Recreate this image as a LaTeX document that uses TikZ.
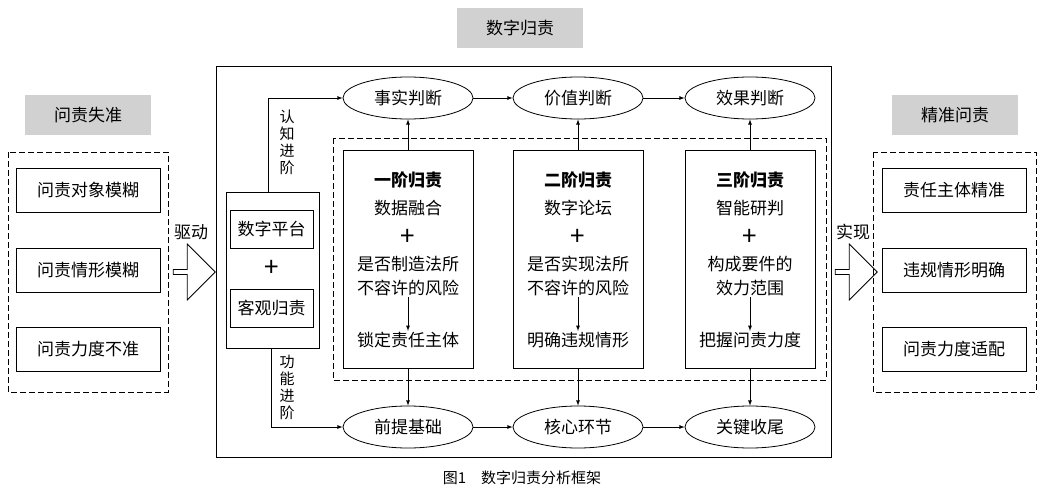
\documentclass[tikz,border=0pt]{standalone}
\usepackage{fontspec}
\setmainfont{Noto Sans CJK SC}
\usetikzlibrary{shapes.geometric, shapes.arrows, positioning}
\tikzset{
  hd/.style={fill=black!18, minimum width=126pt, minimum height=40pt, font=\fontsize{17}{20}\selectfont},
  sbox/.style={draw, thick, minimum width=144pt, minimum height=44pt, font=\fontsize{17}{20}\selectfont},
  pbox/.style={draw, thick, minimum width=83pt, minimum height=38pt, inner sep=1pt, font=\fontsize{17}{20}\selectfont},
  stage/.style={draw, thick, minimum width=130pt, minimum height=218pt},
  oval/.style={draw, thick, ellipse, minimum width=130pt, minimum height=42pt, font=\fontsize{17}{20}\selectfont},
  txt/.style={font=\fontsize{17}{20}\selectfont, inner sep=1pt},
  vtxt/.style={font=\fontsize{15}{17}\selectfont, align=center, inner sep=0pt},
  dframe/.style={draw, thick, dash pattern=on 6pt off 3pt},
  bigarrow/.style={draw, thick, single arrow, minimum height=42pt, minimum width=56pt, single arrow head extend=4pt, inner sep=0pt},
  ar/.style={thick, -latex}
}
\begin{document}
\begin{tikzpicture}[x=1pt, y=-1pt]
\useasboundingbox (0,0) rectangle (1044,500);
%headers
\node[hd] (hl) at (88,115) {问责失准};
\node[hd] (hm) at (520,28) {数字归责};
\node[hd] (hr) at (955,115) {精准问责};
%left column
\draw[dframe] (8,152) rectangle (168,392);
\node[sbox] (l1) at (88,190) {问责对象模糊};
\node[sbox] (l2) at (88,270) {问责情形模糊};
\node[sbox] (l3) at (88,349) {问责力度不准};
\node[txt] (qd) at (191,232) {驱动};
\node[bigarrow] (a1) at (193,272) {};
%main frame
\draw[thick] (216,66) rectangle (831,457);
\node[draw, thick, minimum width=93pt, minimum height=156pt] (plat) at (272.5,270) {};
\node[pbox] (p1) at (271.5,229) {数字平台};
\node[txt] (pp) at (271.5,268) {\fontsize{26}{26}\selectfont +};
\node[pbox] (p2) at (271.5,308) {客观归责};
%ellipses
\node[oval] (e1) at (408,98) {事实判断};
\node[oval] (e2) at (578,98) {价值判断};
\node[oval] (e3) at (750,98) {效果判断};
\node[oval] (f1) at (408,427) {前提基础};
\node[oval] (f2) at (578,427) {核心环节};
\node[oval] (f3) at (750,427) {关键收尾};
\draw[ar] (e1) -- (e2);
\draw[ar] (e2) -- (e3);
\draw[ar] (f1) -- (f2);
\draw[ar] (f2) -- (f3);
\draw[ar] (plat.north west) ++(43pt,0) |- (e1.west);
\draw[ar] (plat.south west) ++(46pt,0) |- (f1.west);
\node[vtxt] (rz) at (287,142) {认\\知\\进\\阶};
\node[vtxt] (gn) at (287,387) {功\\能\\进\\阶};
%stages
\draw[dframe] (333,138) rectangle (826,380);
\foreach \n/\x/\t/\a/\b/\c/\r in {1/408/一阶归责/数据融合/是否制造法所/不容许的风险/锁定责任主体,
  2/578/二阶归责/数字论坛/是否实现法所/不容许的风险/明确违规情形,
  3/750/三阶归责/智能研判/构成要件的/效力范围/把握问责力度}{
  \node[stage] (s\n) at (\x,259) {};
  \node[txt, font=\fontsize{17}{20}\selectfont\bfseries] (t\n) at (\x,180) {\t};
  \node[txt] (m\n) at (\x,208) {\a};
  \node[txt] (k\n) at (\x,237) {\fontsize{26}{26}\selectfont +};
  \node[txt] (q\n) at (\x,264) {\b};
  \node[txt] (w\n) at (\x,288) {\c};
  \node[txt] (r\n) at (\x,340) {\r};
  \draw[ar] (w\n.south) -- (r\n.north);
}
\draw[ar] (s1) -- (e1);
\draw[ar] (s2) -- (e2);
\draw[ar] (s3) -- (e3);
\draw[ar] (s1) -- (f1);
\draw[ar] (s2) -- (f2);
\draw[ar] (s3) -- (f3);
%right column
\node[txt] (sx) at (853,232) {实现};
\node[bigarrow] (a2) at (855,272) {};
\draw[dframe] (873,152) rectangle (1036,392);
\node[sbox] (r1) at (954,190) {责任主体精准};
\node[sbox] (r2) at (954,270) {违规情形明确};
\node[sbox] (r3) at (954,349) {问责力度适配};
%caption
\node[txt, font=\fontsize{15}{18}\selectfont] (cap) at (522,478) {图1\quad 数字归责分析框架};
\end{tikzpicture}
\end{document}
